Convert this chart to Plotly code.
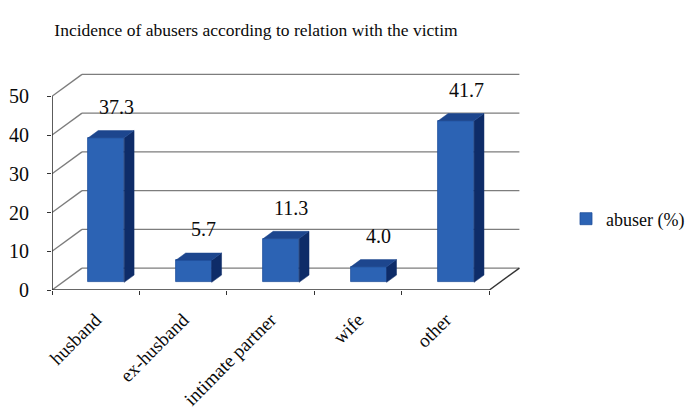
import plotly.graph_objects as go

# Data
categories = ["husband", "ex-husband", "intimate partner", "wife", "other"]
abuser_pct = [37.3, 5.7, 11.3, 4.0, 41.7]
y_ticks = [0, 10, 20, 30, 40, 50]
series_name = "abuser (%)"

# Oblique projection of the 3-D box (depth offset in axis units)
DX = 0.343   # category units shifted right at full depth
DY = 5.65    # value units shifted up at full depth
F1, F2 = 0.35, 0.68   # front / back depth fraction of the bars
BAR_W = 0.41

FRONT = "#2c63b4"
SIDE = "#0e2c68"
TOP = "#1d468e"
GRID = "#7d7d7d"
AXIS = "#333333"
SERIF = "Liberation Serif"
INK = "#0a0a0a"

n = len(categories)
x_lo, x_hi = -0.5, n - 0.5


def seg(x0, y0, x1, y1, color, width):
    return dict(type="line", xref="x", yref="y", x0=x0, y0=y0, x1=x1, y1=y1,
                line=dict(color=color, width=width), layer="below")


shapes = []
# Back wall gridlines with their diagonals back to the front value axis
for t in y_ticks:
    shapes.append(seg(x_lo, t, x_lo + DX, t + DY, GRID, 1.4))
    shapes.append(seg(x_lo + DX, t + DY, x_hi + DX, t + DY, GRID, 1.4))
# Floor right edge
shapes.append(seg(x_hi, 0, x_hi + DX, DY, AXIS, 1.4))
# Front value axis and category baseline
shapes.append(seg(x_lo, 0, x_lo, y_ticks[-1], AXIS, 1.6))
shapes.append(seg(x_lo, 0, x_hi, 0, AXIS, 1.6))

fig = go.Figure()

# Bar front faces
fig.add_trace(go.Bar(
    x=[i + F1 * DX for i in range(n)], y=abuser_pct,
    base=[F1 * DY] * n, width=BAR_W, name=series_name,
    marker=dict(color=FRONT, line=dict(color="#1f4f9c", width=0.8)),
    showlegend=True))

# Bar side and top faces
for i, v in enumerate(abuser_pct):
    xl = i + F1 * DX - BAR_W / 2
    xr = i + F1 * DX + BAR_W / 2
    d = (F2 - F1) * DX
    b0, b1 = F1 * DY, F2 * DY
    fig.add_trace(go.Scatter(
        x=[xr, xr, xr + d, xr + d, xr], y=[b0, b0 + v, b1 + v, b1, b0],
        mode="lines", fill="toself", fillcolor=SIDE,
        line=dict(color=SIDE, width=0.5), hoverinfo="skip", showlegend=False))
    fig.add_trace(go.Scatter(
        x=[xl, xr, xr + d, xl + d, xl], y=[b0 + v, b0 + v, b1 + v, b1 + v, b0 + v],
        mode="lines", fill="toself", fillcolor=TOP,
        line=dict(color=TOP, width=0.5), hoverinfo="skip", showlegend=False))

# Value labels
for i, v in enumerate(abuser_pct):
    fig.add_annotation(
        x=i + (F1 + F2) / 2 * DX, y=F1 * DY + v, text=f"{v:.1f}",
        showarrow=False, yanchor="middle", yshift=31, xshift=5,
        font=dict(family=SERIF, size=20, color=INK))

# A hidden trace so the boundary tick-mark axis is drawn
fig.add_trace(go.Scatter(x=[x_lo], y=[0], xaxis="x2", mode="markers",
                         marker=dict(opacity=0), hoverinfo="skip", showlegend=False))

fig.update_layout(
    width=697, height=420,
    margin=dict(l=52, r=177, t=73, b=130, autoexpand=False),
    paper_bgcolor="white", plot_bgcolor="white",
    title=dict(text="Incidence of abusers according to relation with the victim",
               x=256 / 697, xanchor="center", y=1 - 30 / 420, yanchor="middle",
               font=dict(family=SERIF, size=17.5, color=INK)),
    font=dict(family=SERIF, color=INK),
    bargap=0,
    showlegend=True,
    shapes=shapes,
    legend=dict(xref="container", x=566 / 697, yref="container", y=1 - 219 / 420,
                yanchor="middle", xanchor="left",
                font=dict(family=SERIF, size=18, color=INK),
                itemwidth=30, bgcolor="rgba(0,0,0,0)"),
    xaxis=dict(range=[x_lo, x_hi + 0.35], tickmode="array",
               tickvals=list(range(n)), ticktext=categories, tickangle=-45,
               ticks="", ticklabelstandoff=14, showgrid=False, zeroline=False,
               showline=False, tickfont=dict(family=SERIF, size=19, color=INK),
               automargin=False, fixedrange=True),
    xaxis2=dict(range=[x_lo, x_hi + 0.35], overlaying="x", anchor="y", side="bottom",
                tickmode="array", tickvals=[k - 0.5 for k in range(n + 1)],
                showticklabels=False, ticks="outside", ticklen=4, automargin=False,
                tickcolor=AXIS, showgrid=False, zeroline=False, showline=False),
    yaxis=dict(range=[0, 56], tickmode="array", tickvals=y_ticks,
               ticks="outside", ticklen=4, tickcolor=AXIS, ticklabelstandoff=14,
               showgrid=False, zeroline=False, showline=False, automargin=False,
               tickfont=dict(family=SERIF, size=20, color=INK), fixedrange=True),
)

fig.write_html("out.html")
